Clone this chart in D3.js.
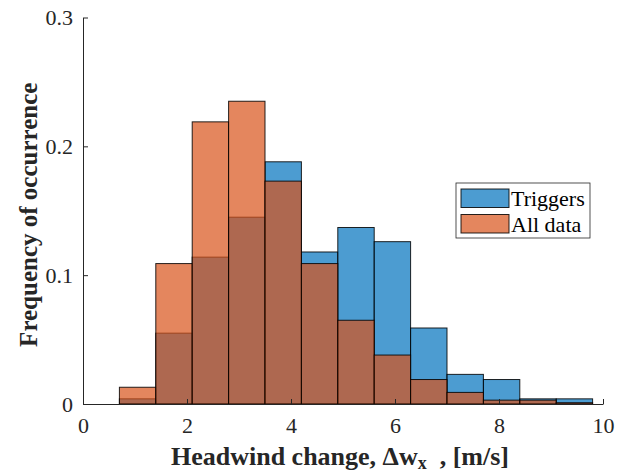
<!DOCTYPE html>
<html>
<head>
<meta charset="utf-8">
<script src="https://cdn.jsdelivr.net/npm/d3@7"></script>
<style>
  html, body { margin: 0; padding: 0; background: #fff; }
  svg { display: block; }
</style>
</head>
<body>
<svg id="chart" width="637" height="471"></svg>
<script>
// ---- data ----
const binEdges = [0.7, 1.4, 2.1, 2.8, 3.5, 4.2, 4.9, 5.6, 6.3, 7.0, 7.7, 8.4, 9.1, 9.8];
const triggers = [0.004, 0.055, 0.114, 0.145, 0.188, 0.118, 0.137, 0.126, 0.059, 0.023, 0.019, 0.004, 0.004];
const allData  = [0.013, 0.109, 0.219, 0.235, 0.173, 0.109, 0.065, 0.038, 0.019, 0.009, 0.003, 0.003, 0.001];
const seriesNames = ["Triggers", "All data"];
const xTicks = [0, 2, 4, 6, 8, 10];
const yTicks = [0, 0.1, 0.2, 0.3];
const yTickLabels = ["0", "0.1", "0.2", "0.3"];

// ---- layout ----
const FONT = "'Liberation Serif'";
const svg = d3.select("#chart");
const L = 83, R = 603, T = 17.5, B = 404;
const x = d3.scaleLinear().domain([0, 10]).range([L, R]);
const y = d3.scaleLinear().domain([0, 0.3]).range([B, T]);
const colors = ["rgb(0,114,189)", "rgb(217,83,25)"];
const alpha = 0.7;

function drawBars(vals, color, cls) {
  svg.append("g").attr("class", cls)
    .selectAll("rect").data(vals).join("rect")
    .attr("x", (d, i) => x(binEdges[i]))
    .attr("width", (d, i) => x(binEdges[i + 1]) - x(binEdges[i]))
    .attr("y", d => y(d))
    .attr("height", d => y(0) - y(d))
    .attr("fill", color)
    .attr("fill-opacity", alpha)
    .attr("stroke", "#000")
    .attr("stroke-width", 1)
    .attr("stroke-opacity", 0.85);
}
drawBars(triggers, colors[0], "trig");
drawBars(allData, colors[1], "all");

// ---- axes ----
const axisColor = "#262626";
const xAxis = svg.append("g").attr("transform", `translate(0,${B})`)
  .call(d3.axisBottom(x).tickValues(xTicks).tickSizeInner(-5).tickSizeOuter(0).tickPadding(13).tickFormat(d3.format("d")));
const yAxis = svg.append("g").attr("transform", `translate(${L},0)`)
  .call(d3.axisLeft(y).tickValues(yTicks).tickSizeInner(-5).tickSizeOuter(0).tickPadding(10)
    .tickFormat((d, i) => yTickLabels[i]));
[xAxis, yAxis].forEach(g => {
  g.attr("font-family", null).attr("font-size", null);
  g.select(".domain").attr("stroke", axisColor).attr("stroke-width", 1);
  g.selectAll(".tick line").attr("stroke", axisColor).attr("stroke-width", 1);
  g.selectAll(".tick text").attr("fill", axisColor)
    .style("font-family", FONT).style("font-size", "22px");
});

// ---- axis labels ----
const xl = svg.append("text")
  .attr("x", (L + R) / 2 - 3).attr("y", 465)
  .attr("text-anchor", "middle")
  .attr("fill", axisColor)
  .style("font-family", FONT)
  .style("font-size", "26px").style("font-weight", "bold")
  .style("white-space", "pre");
xl.append("tspan").text("Headwind change, \u0394w");
xl.append("tspan").attr("dy", 3.5).style("font-size", "18px").text("x");
xl.append("tspan").attr("dy", -3.5).text("  , [m/s]");

svg.append("text")
  .attr("transform", `translate(37,${(T + B) / 2 + 4}) rotate(-90)`)
  .attr("text-anchor", "middle")
  .attr("fill", axisColor)
  .style("font-family", FONT)
  .style("font-size", "25px").style("font-weight", "bold")
  .text("Frequency of occurrence");

// ---- legend ----
const lg = svg.append("g");
lg.append("rect").attr("x", 456).attr("y", 183).attr("width", 134).attr("height", 55)
  .attr("fill", "#fff").attr("stroke", axisColor).attr("stroke-width", 0.8);
seriesNames.forEach((name, i) => {
  const yy = 189 + i * 25.5;
  lg.append("rect").attr("x", 461).attr("y", yy).attr("width", 48).attr("height", 18.5)
    .attr("fill", colors[i]).attr("fill-opacity", alpha)
    .attr("stroke", "#000").attr("stroke-width", 1).attr("stroke-opacity", 0.85);
  lg.append("text").attr("x", 511).attr("y", yy + 17)
    .attr("fill", "#000")
    .style("font-family", FONT)
    .style("font-size", "22px").text(name);
});
</script>
</body>
</html>
